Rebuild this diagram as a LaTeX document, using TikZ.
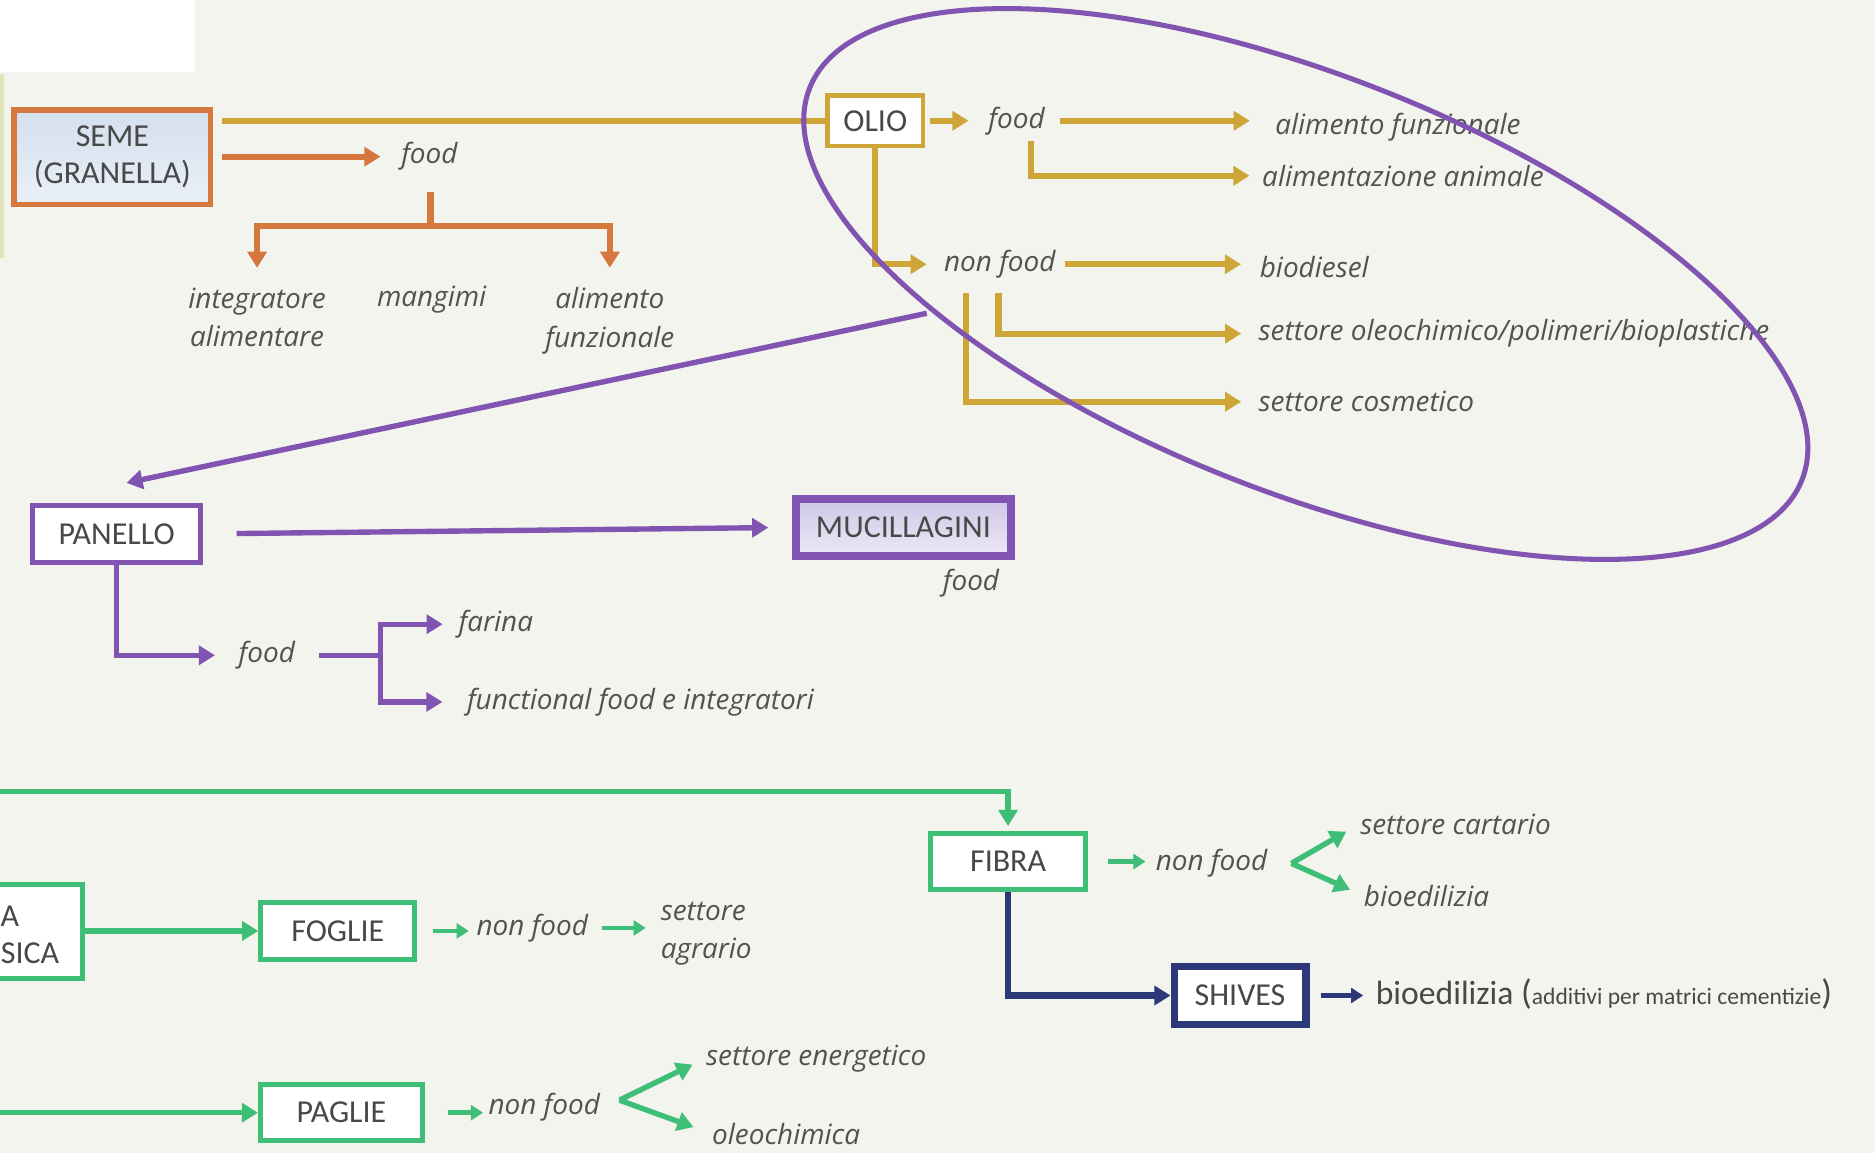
\documentclass[tikz,border=0pt]{standalone}
\usepackage{fontspec}
\setmainfont{Carlito}
\newfontfamily\lblfam{Open Sans}
\usetikzlibrary{arrows.meta}
\definecolor{bgcol}{RGB}{243,244,238}
\definecolor{txt}{RGB}{72,72,72}
\definecolor{lbltxt}{RGB}{82,82,82}
\definecolor{orng}{RGB}{214,120,62}
\definecolor{gold}{RGB}{206,166,56}
\definecolor{purp}{RGB}{128,84,176}
\definecolor{grn}{RGB}{62,190,118}
\definecolor{navy}{RGB}{44,56,120}
\definecolor{edgeline}{RGB}{226,229,186}
\newcommand{\lblfont}{\lblfam\itshape\fontsize{8.3}{11.4}\selectfont}
\newcommand{\boxfont}{\fontsize{9.5}{11}\selectfont}
\tikzset{
  box/.style={draw, rectangle, inner sep=0pt, align=center, font=\boxfont, text=txt, fill=white},
  lbl/.style={font=\lblfont, text=lbltxt, inner sep=0pt, align=center},
  tip/.style={-{Triangle[length=4.8pt,width=5.6pt]}},
  smalltip/.style={-{Triangle[length=3.6pt,width=4.4pt]}},
}
\begin{document}
\begin{tikzpicture}[x=0.0125cm, y=-0.0125cm]
  % background
  \fill[bgcol] (0,0) rectangle (1568,964);
  \useasboundingbox (0,0) rectangle (1568,964);
  \fill[white] (0,0) rectangle (163,60);
  \draw[edgeline, line width=1.5pt] (1,62) -- (1,216);

  % Seme
  \node[box, draw=orng, line width=1.7pt, top color={rgb,255:red,212;green,223;blue,238}, bottom color={rgb,255:red,234;green,240;blue,247},
        minimum width=2.05cm, minimum height=0.99cm] (seme) at (94,131.5) {SEME\\(GRANELLA)};
  \node[lbl, anchor=west] (food1) at (335,131) {food};
  \draw[orng, line width=1.8pt, tip, shorten <=0.09cm, shorten >=0.21cm] (seme.east |- food1.west) -- (food1.west);
  \coordinate (fork1) at (360,189);
  \node[lbl, anchor=north] (integ) at (215,240) {integratore\\alimentare};
  \node[lbl, anchor=north] (mangimi) at (361,239) {mangimi};
  \node[lbl, anchor=north] (alimf1) at (510,240) {alimento\\funzionale};
  \draw[orng, line width=1.8pt, shorten <=0.22cm] (fork1 |- food1.south) -- (fork1);
  \draw[orng, line width=1.8pt, tip, shorten >=0.2cm] (fork1) -| (integ.north);
  \draw[orng, line width=1.8pt, tip, shorten >=0.2cm] (fork1) -| (alimf1.north);

  % Olio
  \node[box, draw=gold, line width=1.3pt, minimum width=1.0cm, minimum height=0.525cm] (olio) at (732,101) {OLIO};
  \draw[gold, line width=1.8pt, shorten <=0.09cm] (seme.east |- olio.west) -- (olio.west);
  \node[lbl, anchor=west] (food2) at (826,101) {food};
  \draw[gold, line width=1.8pt, tip, shorten <=0.05cm, shorten >=0.2cm] (olio.east) -- (olio.east -| food2.west);
  \node[lbl, anchor=west] (alimfunz) at (1066,106) {alimento funzionale};
  \node[lbl, anchor=west] (alimanim) at (1055,147) {alimentazione animale};
  \draw[gold, line width=1.8pt, tip, shorten <=0.15cm, shorten >=0.26cm] (food2.east) -- (food2.east -| alimfunz.west);
  \coordinate (f2down) at (862,118);
  \draw[gold, line width=1.8pt, tip, shorten >=0.125cm] (f2down) |- (alimanim.west);
  \node[lbl, anchor=west] (nonfood1) at (789,221) {non food};
  \draw[gold, line width=1.8pt, tip, shorten >=0.175cm] (olio.south) |- (nonfood1.west);
  \node[lbl, anchor=west] (biodiesel) at (1053,223) {biodiesel};
  \draw[gold, line width=1.8pt, tip, shorten <=0.09cm, shorten >=0.19cm] (nonfood1.east) -- (nonfood1.east -| biodiesel.west);
  \node[lbl, anchor=west] (oleo1) at (1052,279) {settore oleochimico/polimeri/bioplastiche};
  \node[lbl, anchor=west] (cosm) at (1052,336) {settore cosmetico};
  \coordinate (nf1a) at (835,245);
  \coordinate (nf1b) at (808,245);
  \draw[gold, line width=1.8pt, tip, shorten >=0.175cm] (nf1a) |- (oleo1.west);
  \draw[gold, line width=1.8pt, tip, shorten >=0.175cm] (nf1b) |- (cosm.west);

  % ellipse round the oil
  \draw[purp, line width=1.5pt, rotate around={-21.55:(1092,237.5)}] (1092,237.5) ellipse (5.575cm and 2.175cm);

  % Panello
  \node[box, draw=purp, line width=1.4pt, minimum width=1.76cm, minimum height=0.59cm] (panello) at (97.5,446.5) {PANELLO};
  \coordinate (pstart) at (775,262);
  \draw[purp, line width=1.6pt, tip, shorten >=1.03cm] (pstart) -- (panello.north west);
  \node[box, draw=purp, line width=2.4pt, top color={rgb,255:red,206;green,198;blue,230}, bottom color={rgb,255:red,236;green,233;blue,246},
        minimum width=2.24cm, minimum height=0.6cm] (mucil) at (755.5,441) {MUCILLAGINI};
  \draw[purp, line width=1.6pt, tip, shorten <=0.35cm, shorten >=0.25cm] (panello.east) -- (mucil.west);
  \node[lbl] (mucfood) at (812,488) {food};
  \node[lbl, anchor=west] (food3) at (199,548) {food};
  \draw[purp, line width=1.6pt, tip, shorten >=0.24cm] (panello.south) |- (food3.west);
  \coordinate (fork3) at (318,548);
  \draw[purp, line width=1.6pt, shorten <=0.24cm] (food3.east) -- (fork3);
  \node[lbl, anchor=west] (farina) at (383,522) {farina};
  \node[lbl, anchor=west] (functional) at (390,587) {functional food e integratori};
  \draw[purp, line width=1.6pt, tip, shorten >=0.16cm] (fork3) |- (farina.west);
  \draw[purp, line width=1.6pt, tip, shorten >=0.25cm] (fork3) |- (functional.west);

  % Stem (cut at the left)
  \node[box, draw=grn, line width=1.5pt, minimum width=2.11cm, minimum height=0.975cm] (stem) at (-15.5,779) {};
  \node[text=txt, font=\boxfont, inner sep=0pt, anchor=west] (stemtxt1) at (0,766) {A};
  \node[text=txt, font=\boxfont, inner sep=0pt, anchor=east] (stemtxt2) at (50,797) {SICA};
  \coordinate (gstart1) at (-10,662);
  \coordinate (gstart2) at (-10,930.5);

  % Fibra
  \node[box, draw=grn, line width=1.5pt, minimum width=1.625cm, minimum height=0.59cm] (fibra) at (843,720.5) {FIBRA};
  \draw[grn, line width=1.6pt, tip, shorten >=0.05cm] (gstart1) -| (fibra.north);
  \node[lbl, anchor=west] (nonfood2) at (966,722) {non food};
  \draw[grn, line width=1.4pt, smalltip, shorten <=0.21cm, shorten >=0.1cm] (fibra.east) -- (fibra.east -| nonfood2.west);
  \coordinate (fv) at (1080,722);
  \node[lbl, anchor=west] (cartario) at (1137,689) {settore cartario};
  \node[lbl, anchor=west] (bioed1) at (1140,749) {bioedilizia};
  \draw[grn, line width=1.6pt, tip, shorten >=0.16cm] (fv) -- (cartario.west);
  \draw[grn, line width=1.6pt, tip, shorten >=0.15cm] (fv) -- (bioed1.west);

  % Foglie
  \node[box, draw=grn, line width=1.5pt, minimum width=1.61cm, minimum height=0.59cm] (foglie) at (282.5,778.5) {FOGLIE};
  \draw[grn, line width=1.6pt, tip] (stem.east |- foglie.west) -- (foglie.west);
  \node[lbl, anchor=west] (nonfood3) at (398,776) {non food};
  \draw[grn, line width=1.4pt, smalltip, shorten <=0.16cm, shorten >=0.075cm] (foglie.east) -- (foglie.east -| nonfood3.west);
  \node[lbl, anchor=west, align=left] (agrario) at (552,781) {settore\\agrario};
  \draw[grn, line width=1.4pt, smalltip, shorten <=0.14cm, shorten >=0.15cm] (nonfood3.east) -- (nonfood3.east -| agrario.west);

  % Paglie
  \node[box, draw=grn, line width=1.5pt, minimum width=1.69cm, minimum height=0.59cm] (paglie) at (285.5,930.5) {PAGLIE};
  \draw[grn, line width=1.6pt, tip] (gstart2) -- (paglie.west);
  \node[lbl, anchor=west] (nonfood4) at (408,926) {non food};
  \draw[grn, line width=1.4pt, smalltip, shorten <=0.24cm, shorten >=0.05cm] (paglie.east) -- (paglie.east -| nonfood4.west);
  \coordinate (pv) at (518,920);
  \node[lbl, anchor=west] (energ) at (590,885) {settore energetico};
  \node[lbl, anchor=west] (oleoch) at (595,948) {oleochimica};
  \draw[grn, line width=1.6pt, tip, shorten >=0.15cm] (pv) -- (energ.west);
  \draw[grn, line width=1.6pt, tip, shorten >=0.2cm] (pv) -- (oleoch.west);

  % Shives
  \node[box, draw=navy, line width=2.2pt, minimum width=1.375cm, minimum height=0.61cm] (shives) at (1037,832.5) {SHIVES};
  \draw[navy, line width=1.8pt, tip] (fibra.south) |- (shives.west);
  \node[anchor=west, text=txt, inner sep=0pt] (bioed2) at (1150,831)
    {\fontsize{10}{12}\selectfont bioedilizia {\fontsize{10.5}{12}\selectfont(}{\fontsize{7}{8}\selectfont additivi per matrici cementizie}{\fontsize{10.5}{12}\selectfont)}};
  \draw[navy, line width=1.4pt, smalltip, shorten <=0.125cm, shorten >=0.125cm] (shives.east) -- (shives.east -| bioed2.west);
\end{tikzpicture}
\end{document}
